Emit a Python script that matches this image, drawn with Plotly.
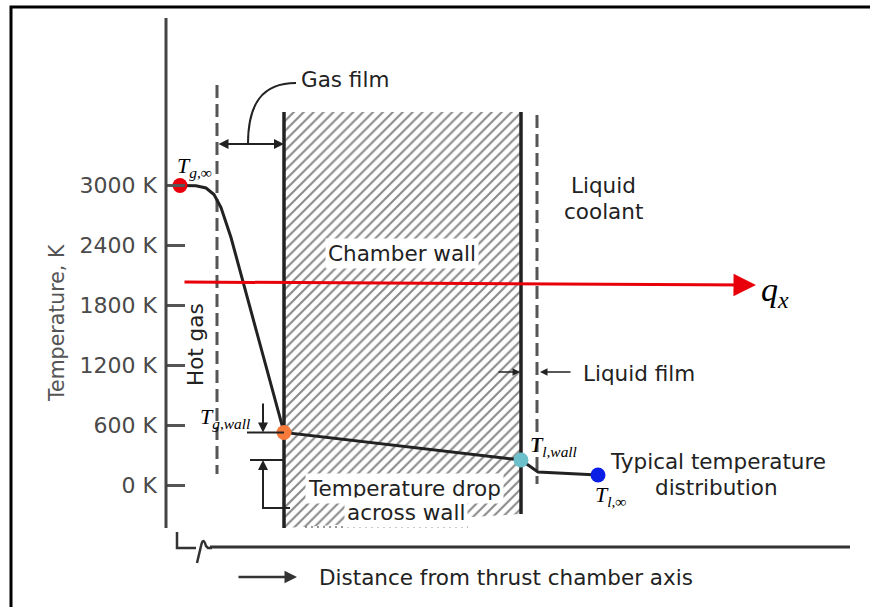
import plotly.graph_objects as go

# ---------------- data ----------------
TICK_K = [0, 600, 1200, 1800, 2400, 3000]
TICK_LABELS = [f"{v} K" for v in TICK_K]

# temperature profile: distance (arbitrary units from chamber axis) vs temperature (K)
PROFILE_DIST = [1.4, 3.0, 4.0, 4.8, 5.5, 6.5, 11.8, 35.5, 37.2, 43.2]
PROFILE_TEMP = [3000, 2998, 2975, 2910, 2780, 2480, 530, 255, 135, 105]

NODE_LABELS = ["<i>T</i><sub><i>g,∞</i></sub>", "<i>T</i><sub><i>g,wall</i></sub>",
               "<i>T</i><sub><i>l,wall</i></sub>", "<i>T</i><sub><i>l,∞</i></sub>"]
NODE_DIST = [1.4, 11.8, 35.5, 43.2]
NODE_TEMP = [3000, 530, 255, 105]
NODE_COLORS = ["#e8000b", "#f57a3c", "#6cc0cc", "#0a1ee6"]

WALL_DIST = [11.8, 35.5]          # inner / outer face of chamber wall
GAS_FILM_DIST = 5.1               # edge of gas film
LIQ_FILM_DIST = 37.1              # edge of liquid film
HEAT_FLUX_TEMP = [2035, 2005]     # level of q_x arrow

# ---------------- geometry helpers ----------------
W, H = 870, 607
AX_PX, PX_PER_UNIT = 166, 10.0
ZERO_PY, PX_PER_K = 485.5, 0.1


def d(px):
    return (px - AX_PX) / PX_PER_UNIT


def T(py):
    return (ZERO_PY - py) / PX_PER_K


def px(xp):
    return xp / W


def py(yp):
    return 1 - yp / H


INK = "#222222"
GREY = "#555555"
FONT = "DejaVu Sans"
SERIF = "Liberation Serif"
TXT = 21.5

fig = go.Figure()

# chamber wall (hatched)
wt, wb_l, wb_r = T(112), T(528), T(514)
fig.add_trace(go.Scatter(
    x=[WALL_DIST[0], WALL_DIST[1], WALL_DIST[1], WALL_DIST[0], WALL_DIST[0]],
    y=[wt, wt, wb_r, wb_l, wt],
    fill="toself", mode="lines", line=dict(width=0), fillcolor="white",
    fillpattern=dict(shape="/", size=7, solidity=0.3, fgcolor="#151515", bgcolor="white"),
    hoverinfo="skip", showlegend=False))

# wall faces
fig.add_trace(go.Scatter(x=[WALL_DIST[0], WALL_DIST[0]], y=[wt, wb_l], mode="lines",
                         line=dict(color=INK, width=3.5), hoverinfo="skip", showlegend=False))
fig.add_trace(go.Scatter(x=[WALL_DIST[1], WALL_DIST[1]], y=[wt, wb_r], mode="lines",
                         line=dict(color=INK, width=3.5), hoverinfo="skip", showlegend=False))

# film boundaries (dashed)
fig.add_trace(go.Scatter(x=[GAS_FILM_DIST, GAS_FILM_DIST], y=[T(85), T(474)], mode="lines",
                         line=dict(color=GREY, width=3, dash="13px,6px"), hoverinfo="skip", showlegend=False))
fig.add_trace(go.Scatter(x=[LIQ_FILM_DIST, LIQ_FILM_DIST], y=[T(115), T(484)], mode="lines",
                         line=dict(color=GREY, width=3, dash="13px,6px"), hoverinfo="skip", showlegend=False))

# dotted line under wall
fig.add_trace(go.Scatter(x=[d(305), d(468)], y=[T(527), T(527)], mode="lines",
                         line=dict(color="#777", width=1.5, dash="2px,4px"), hoverinfo="skip", showlegend=False))

# temperature profile
fig.add_trace(go.Scatter(x=PROFILE_DIST, y=PROFILE_TEMP, mode="lines",
                         line=dict(color="#222", width=3), hoverinfo="skip", showlegend=False))
fig.add_trace(go.Scatter(x=NODE_DIST, y=NODE_TEMP, mode="markers",
                         marker=dict(color=NODE_COLORS, size=15, line=dict(width=0)),
                         hoverinfo="skip", showlegend=False))

shapes = []
# outer frame
shapes.append(dict(type="rect", xref="paper", yref="paper", x0=px(11), x1=1.05, y0=-0.05, y1=py(7),
                   line=dict(color="black", width=3)))
# y axis line
shapes.append(dict(type="line", xref="x", yref="y", x0=0, x1=0, y0=T(528), y1=T(18),
                   line=dict(color="#444", width=3)))
# x axis line
shapes.append(dict(type="line", xref="x", yref="y", x0=d(210), x1=d(850), y0=T(547), y1=T(547),
                   line=dict(color="#333", width=3)))
# axis break
shapes.append(dict(type="path", xref="x", yref="y",
                   path=(f"M {d(177)},{T(532)} L {d(177)},{T(548)} L {d(196)},{T(548)} "
                         f"M {d(197)},{T(563)} L {d(201)},{T(546)} Q {d(203)},{T(536)} {d(206)},{T(546)} "
                         f"L {d(208)},{T(548)} L {d(212)},{T(548)}"),
                   line=dict(color="#333", width=2.5)))
# temperature-drop dimension lines
shapes.append(dict(type="line", xref="x", yref="y", x0=d(247), x1=WALL_DIST[0], y0=NODE_TEMP[1], y1=NODE_TEMP[1],
                   line=dict(color=INK, width=2)))
shapes.append(dict(type="line", xref="x", yref="y", x0=d(250), x1=WALL_DIST[0], y0=NODE_TEMP[2], y1=NODE_TEMP[2],
                   line=dict(color=INK, width=2)))
shapes.append(dict(type="path", xref="x", yref="y",
                   path=f"M {d(263)},{NODE_TEMP[2] - 60} L {d(263)},{T(508)} L {d(290)},{T(508)}",
                   line=dict(color=INK, width=2)))
# gas film leader curve
shapes.append(dict(type="path", xref="x", yref="y",
                   path=(f"M {d(248)},{T(144)} C {d(248)},{T(104)} {d(262)},{T(83)} {d(296)},{T(83)}"),
                   line=dict(color=INK, width=2)))

annotations = []


def arrow(x, y, ax, ay, color=INK, width=2, head=2, size=1.0, side="end"):
    annotations.append(dict(x=x, y=y, ax=ax, ay=ay, xref="x", yref="y", axref="x", ayref="y",
                            text="", showarrow=True, arrowhead=head, startarrowhead=head,
                            arrowsize=size, startarrowsize=size, arrowwidth=width,
                            arrowcolor=color, arrowside=side, standoff=0, startstandoff=0))


def label(text, xp, yp, size=TXT, color=INK, xanchor="center", angle=0, bg=None, family=FONT):
    a = dict(text=text, x=px(xp), y=py(yp), xref="paper", yref="paper", showarrow=False,
             xanchor=xanchor, yanchor="middle", textangle=angle,
             font=dict(family=family, size=size, color=color))
    if bg:
        a.update(bgcolor=bg, borderpad=2)
    annotations.append(a)


# gas film double arrow
arrow(WALL_DIST[0], T(144), GAS_FILM_DIST, T(144), width=2, head=2, size=1.0, side="end+start")
# temperature drop arrows
arrow(d(263), NODE_TEMP[1], d(263), T(402), width=2)
arrow(d(263), NODE_TEMP[2], d(263), NODE_TEMP[2] - 70, width=2)
# liquid film arrows
arrow(d(520), T(372), d(497), T(372), width=1.5)
arrow(d(540), T(372), d(572), T(372), width=1.5)
# x-axis direction arrow
arrow(d(297), T(577), d(237), T(577), color="#333", width=2.5)
# heat flux arrow
arrow(d(756), HEAT_FLUX_TEMP[1], d(183), HEAT_FLUX_TEMP[0], color="#e8000b", width=3, head=2, size=1.5)

# texts
label("Gas film", 299, 80, xanchor="left")
label("Chamber wall", 402, 253, bg="white")
label("Liquid", 603, 185)
label("coolant", 603, 211)
label("Hot gas", 195, 345, angle=-90)
label("Liquid film", 581, 373, xanchor="left")
label("Temperature drop", 404, 488, bg="white")
label("across wall", 406, 512, bg="white")
label("Typical temperature", 718, 461)
label("distribution", 716, 487)
label("Distance from thrust chamber axis", 317, 577, xanchor="left")
label("Temperature, K", 57, 323, size=20.5, color="#555", angle=-90)
label("<i>q</i><sub><i>x</i></sub>", 759, 292, size=34, color="black", xanchor="left", family=SERIF)

# node labels
node_pos = [(175, 167), (198, 418), (528, 446), (593, 496)]
for txt, (xp, yp) in zip(NODE_LABELS, node_pos):
    label(txt, xp, yp, size=22, color="black", xanchor="left", family=SERIF)

fig.update_layout(
    width=W, height=H, margin=dict(l=0, r=0, t=0, b=0),
    paper_bgcolor="white", plot_bgcolor="white", showlegend=False,
    xaxis=dict(range=[d(0), d(W)], visible=False, fixedrange=True),
    yaxis=dict(range=[T(H), T(0)], anchor="free", position=AX_PX / W,
               tickvals=TICK_K, ticktext=TICK_LABELS, ticks="inside", ticklen=18,
               tickwidth=3, tickcolor="#555", showgrid=False, zeroline=False, showline=False,
               tickfont=dict(family=FONT, size=22, color="#4a4a4a"), ticklabelstandoff=9,
               fixedrange=True),
    shapes=shapes, annotations=annotations,
)

fig.write_html("out.html")
